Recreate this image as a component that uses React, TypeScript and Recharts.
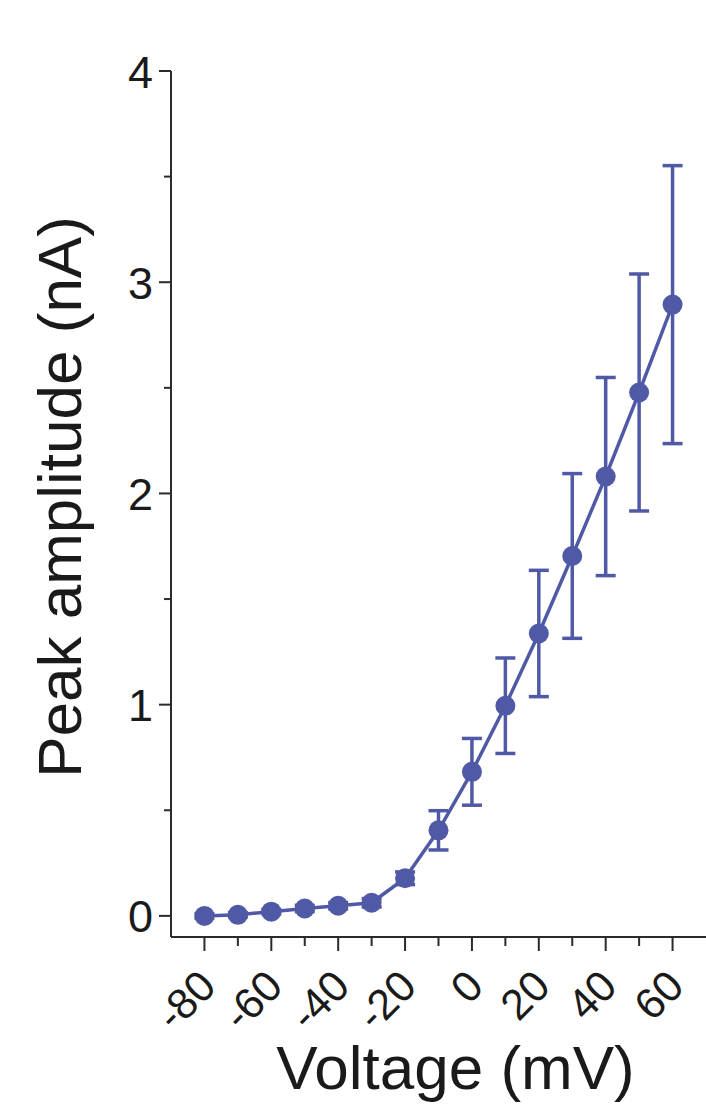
import React from "react";
import { LineChart, Line, XAxis, YAxis, ErrorBar, Label } from "recharts";

// Peak amplitude vs. voltage (I-V curve), mean ± SEM
const voltages = [-80, -70, -60, -50, -40, -30, -20, -10, 0, 10, 20, 30, 40, 50, 60];
const peakAmplitude = [0, 0.005, 0.02, 0.035, 0.048, 0.062, 0.178, 0.405, 0.682, 0.995, 1.337, 1.704, 2.08, 2.478, 2.894];
const sem = [0.01, 0.01, 0.01, 0.015, 0.015, 0.02, 0.03, 0.093, 0.158, 0.226, 0.299, 0.39, 0.469, 0.561, 0.658];

const xTicks = [-80, -70, -60, -50, -40, -30, -20, -10, 0, 10, 20, 30, 40, 50, 60];
const xLabelTicks = [-80, -60, -40, -20, 0, 20, 40, 60];
const yTicks = [0, 0.5, 1, 1.5, 2, 2.5, 3, 3.5, 4];
const yLabelTicks = [0, 1, 2, 3, 4];

const data = voltages.map((v, i) => ({ v, amp: peakAmplitude[i], sem: sem[i] }));

const BLUE = "#5059a6";
const AXIS = "#2b2b2b";
const FONT = "'Liberation Sans', Arial, sans-serif";

function XTick(props: any) {
  const { x, y, payload } = props;
  const major = xLabelTicks.includes(payload.value);
  return (
    <g transform={`translate(${x},${y})`}>
      <line x1={0} y1={0} x2={0} y2={major ? 14 : 9} stroke={AXIS} strokeWidth={2} />
      {major && (
        <text
          x={3}
          y={41}
          transform="rotate(-45, 3, 41)"
          textAnchor="end"
          dominantBaseline="central"
          fontSize={43}
          fontFamily={FONT}
          fill="#1a1a1a"
        >
          {payload.value}
        </text>
      )}
    </g>
  );
}

function YTick(props: any) {
  const { x, y, payload } = props;
  const major = yLabelTicks.includes(payload.value);
  return (
    <g transform={`translate(${x},${y})`}>
      <line x1={0} y1={0} x2={major ? -12 : -7} y2={0} stroke={AXIS} strokeWidth={2} />
      {major && (
        <text
          x={-18}
          y={1}
          textAnchor="end"
          dominantBaseline="central"
          fontSize={45}
          fontFamily={FONT}
          fill="#1a1a1a"
        >
          {payload.value}
        </text>
      )}
    </g>
  );
}

function YTitle(props: any) {
  const { viewBox } = props;
  const cx = viewBox.x + 81;
  const cy = viewBox.y + viewBox.height / 2 - 7;
  return (
    <text
      x={cx}
      y={cy}
      transform={`rotate(-90, ${cx}, ${cy})`}
      textAnchor="middle"
      fontSize={62}
      fontFamily={FONT}
      fill="#1a1a1a"
    >
      Peak amplitude (nA)
    </text>
  );
}

function XTitle(props: any) {
  const { viewBox } = props;
  const cx = viewBox.x + viewBox.width / 2 + 17;
  const cy = viewBox.y + 152;
  return (
    <text x={cx} y={cy} textAnchor="middle" fontSize={62} fontFamily={FONT} fill="#1a1a1a">
      Voltage (mV)
    </text>
  );
}

export default function App() {
  return (
    <div style={{ position: "absolute", left: 0, top: 0, width: 706, height: 1107, background: "#fff" }}>
      <LineChart width={706} height={1107} data={data} margin={{ top: 71, right: 0, left: 0, bottom: 0 }}>
        <XAxis
          dataKey="v"
          type="number"
          domain={[-90, 70]}
          ticks={xTicks}
          interval={0}
          height={170}
          tickSize={0}
          tickMargin={0}
          tickLine={false}
          axisLine={{ stroke: AXIS, strokeWidth: 2 }}
          tick={(p: any) => <XTick {...p} />}
        >
          <Label content={(p: any) => <XTitle {...p} />} />
        </XAxis>
        <YAxis
          type="number"
          domain={[-0.1, 4]}
          ticks={yTicks}
          interval={0}
          width={171}
          tickSize={0}
          tickMargin={0}
          tickLine={false}
          axisLine={{ stroke: AXIS, strokeWidth: 2 }}
          tick={(p: any) => <YTick {...p} />}
        >
          <Label content={(p: any) => <YTitle {...p} />} />
        </YAxis>
        <Line
          dataKey="amp"
          type="linear"
          stroke={BLUE}
          strokeWidth={3.5}
          dot={{ r: 10, fill: BLUE, stroke: BLUE, strokeWidth: 0 }}
          isAnimationActive={false}
        >
          <ErrorBar dataKey="sem" direction="y" width={10} stroke={BLUE} strokeWidth={3.5} isAnimationActive={false} />
        </Line>
      </LineChart>
    </div>
  );
}
